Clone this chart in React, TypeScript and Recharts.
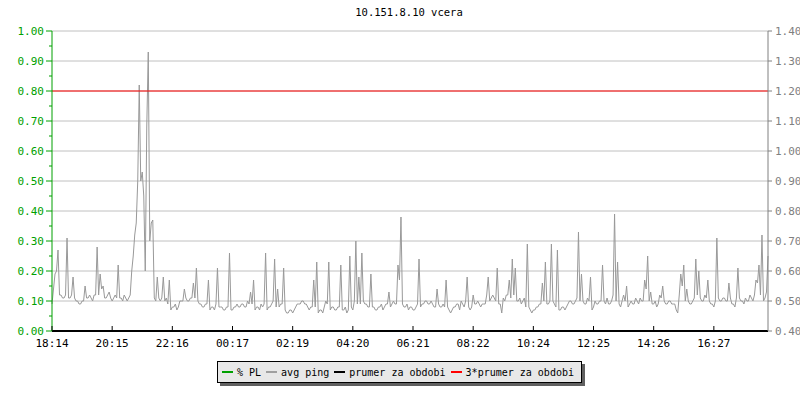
import React from "react";
import {
  LineChart,
  Line,
  XAxis,
  YAxis,
  CartesianGrid,
  ReferenceLine,
} from "recharts";

const title = "10.151.8.10 vcera";

const timeLabels = [
  "18:14", "20:15", "22:16", "00:17", "02:19", "04:20",
  "06:21", "08:22", "10:24", "12:25", "14:26", "16:27",
];

// avg ping samples (right axis units), even samples
const pingA = [
  0.49, 0.59, 0.67, 0.52, 0.51, 0.71, 0.51, 0.58, 0.50, 0.49, 0.50, 0.55, 0.51, 0.51, 0.52, 0.68, 0.59, 0.55, 0.51, 0.53, 0.50, 0.52,
  0.62, 0.51, 0.52, 0.50, 0.52, 0.65, 0.76, 1.22, 0.93, 0.60, 1.33, 0.76, 0.51, 0.58, 0.50, 0.58, 0.51, 0.57, 0.48, 0.49, 0.48,
  0.50, 0.54, 0.50, 0.51, 0.56, 0.61, 0.49, 0.48, 0.49, 0.57, 0.48, 0.47, 0.61, 0.48, 0.47, 0.48, 0.66, 0.47, 0.48, 0.48, 0.49,
  0.48, 0.50, 0.53, 0.57, 0.48, 0.47, 0.48, 0.66, 0.48, 0.49, 0.64, 0.54, 0.49, 0.61, 0.46, 0.47, 0.46, 0.48, 0.49, 0.50, 0.49, 0.48,
  0.48, 0.57, 0.63, 0.47, 0.46, 0.50, 0.63, 0.48, 0.47, 0.48, 0.62, 0.47, 0.46, 0.65, 0.47, 0.70, 0.58, 0.66, 0.49, 0.48, 0.59, 0.48,
  0.47, 0.48, 0.47, 0.49, 0.53, 0.49, 0.49, 0.62, 0.78, 0.48, 0.49, 0.48, 0.47, 0.48, 0.64, 0.49, 0.50, 0.49, 0.50, 0.48,
  0.54, 0.48, 0.49, 0.57, 0.47, 0.47, 0.48, 0.49, 0.50, 0.48, 0.58, 0.47, 0.52, 0.49, 0.49, 0.49, 0.49, 0.58, 0.51, 0.51, 0.61, 0.49,
  0.51, 0.52, 0.57, 0.64, 0.61, 0.50, 0.49, 0.51, 0.69, 0.47, 0.47, 0.48, 0.49, 0.56, 0.63, 0.49, 0.69, 0.49, 0.67, 0.47, 0.48,
  0.48, 0.50, 0.49, 0.50, 0.73, 0.59, 0.49, 0.51, 0.58, 0.48, 0.49, 0.50, 0.62, 0.49, 0.49, 0.50, 0.79, 0.63, 0.48, 0.52, 0.55, 0.49,
  0.49, 0.51, 0.49, 0.50, 0.57, 0.65, 0.53, 0.49, 0.48, 0.52, 0.55, 0.49, 0.50, 0.49, 0.49, 0.46, 0.59, 0.62, 0.54, 0.49, 0.50,
  0.64, 0.60, 0.50, 0.52, 0.57, 0.49, 0.48, 0.71, 0.50, 0.51, 0.50, 0.56, 0.49, 0.48, 0.61, 0.50, 0.49, 0.50, 0.52, 0.50, 0.57, 0.62, 0.72, 0.51, 0.65,
];

// odd samples, between the even ones
const pingB = [
  0.54, 0.60, 0.52, 0.51, 0.52, 0.51, 0.52, 0.51, 0.50, 0.49, 0.50, 0.51, 0.52, 0.50, 0.52, 0.52, 0.54, 0.51, 0.52, 0.51, 0.51,
  0.51, 0.51, 0.50, 0.51, 0.51, 0.60, 0.72, 0.90, 0.90, 0.85, 1.08, 0.70, 0.77, 0.50, 0.51, 0.51, 0.50, 0.49, 0.47, 0.48, 0.47,
  0.50, 0.50, 0.51, 0.50, 0.51, 0.51, 0.50, 0.49, 0.48, 0.49, 0.47, 0.48, 0.49, 0.48, 0.48, 0.47, 0.48, 0.47, 0.48, 0.49, 0.48,
  0.49, 0.48, 0.49, 0.49, 0.47, 0.48, 0.49, 0.49, 0.47, 0.48, 0.50, 0.48, 0.48, 0.49, 0.47, 0.46, 0.47, 0.47, 0.49, 0.49, 0.50, 0.49,
  0.47, 0.48, 0.48, 0.46, 0.47, 0.48, 0.49, 0.47, 0.48, 0.47, 0.48, 0.47, 0.48, 0.47, 0.48, 0.50, 0.49, 0.49, 0.50, 0.49, 0.48, 0.48,
  0.47, 0.48, 0.49, 0.48, 0.49, 0.48, 0.50, 0.49, 0.57, 0.49, 0.48, 0.47, 0.48, 0.47, 0.49, 0.48, 0.49, 0.50, 0.49, 0.49,
  0.48, 0.49, 0.48, 0.48, 0.48, 0.46, 0.48, 0.49, 0.47, 0.49, 0.50, 0.48, 0.48, 0.49, 0.50, 0.48, 0.49, 0.52, 0.50, 0.52, 0.50, 0.49,
  0.46, 0.50, 0.52, 0.51, 0.52, 0.50, 0.51, 0.50, 0.48, 0.48, 0.46, 0.47, 0.48, 0.49, 0.50, 0.49, 0.50, 0.50, 0.48, 0.47, 0.48,
  0.47, 0.49, 0.50, 0.49, 0.51, 0.50, 0.50, 0.49, 0.50, 0.47, 0.50, 0.49, 0.50, 0.50, 0.51, 0.49, 0.52, 0.50, 0.49, 0.50, 0.50, 0.48,
  0.50, 0.49, 0.50, 0.51, 0.50, 0.54, 0.50, 0.49, 0.50, 0.49, 0.51, 0.50, 0.49, 0.50, 0.49, 0.47, 0.52, 0.55, 0.50, 0.50, 0.49,
  0.51, 0.52, 0.51, 0.50, 0.51, 0.50, 0.49, 0.50, 0.51, 0.50, 0.51, 0.50, 0.51, 0.49, 0.51, 0.51, 0.50, 0.51, 0.50, 0.51, 0.52, 0.56, 0.52, 0.50, 0.53,
];

const prumer = 0.4;
const triplePrumer = 1.2;

const leftTicks = [0, 0.05, 0.1, 0.15, 0.2, 0.25, 0.3, 0.35, 0.4, 0.45, 0.5, 0.55, 0.6, 0.65, 0.7, 0.75, 0.8, 0.85, 0.9, 0.95, 1.0];
const rightTicks = [0.4, 0.5, 0.6, 0.7, 0.8, 0.9, 1.0, 1.1, 1.2, 1.3, 1.4];

const avgPing: number[] = [];
pingA.forEach((v, i) => {
  avgPing.push(v);
  if (i < pingB.length) avgPing.push(pingB[i]);
});
const data = avgPing.map((v, i) => ({ i, ping: v, pl: 0 }));
const tickStep = 40;
const xTicks = timeLabels.map((_, k) => k * tickStep);

const FONT = "'DejaVu Sans Mono', monospace";
const GREEN = "#00a000";
const PLOT_BOTTOM = 331;

const LeftTick = (props: any) => {
  const { x, y, payload } = props;
  const v = Math.round(payload.value * 100);
  const major = v % 10 === 0;
  return (
    <g>
      <line x1={major ? x + 2 : x + 5} y1={y} x2={x + 8} y2={y} stroke={GREEN} />
      {major && (
        <text x={x} y={y} dy={4} textAnchor="end" fill={GREEN} fontSize={11} fontFamily={FONT}>
          {payload.value.toFixed(2)}
        </text>
      )}
    </g>
  );
};

const RightTick = (props: any) => {
  const { x, y, payload } = props;
  return (
    <text x={x} y={y} dy={4} textAnchor="start" fill="#808080" fontSize={11} fontFamily={FONT}>
      {payload.value.toFixed(2)}
    </text>
  );
};

const BottomTick = (props: any) => {
  const { x, y, payload } = props;
  return (
    <g>
      <line x1={x} y1={PLOT_BOTTOM - 5} x2={x} y2={PLOT_BOTTOM} stroke="#000" />
      <text x={x} y={y} dy={10} textAnchor="middle" fill="#000" fontSize={11} fontFamily={FONT}>
        {timeLabels[payload.value / tickStep]}
      </text>
    </g>
  );
};

const legendItems = [
  { name: "% PL", color: GREEN },
  { name: "avg ping", color: "#a0a0a0" },
  { name: "prumer za obdobi", color: "#000000" },
  { name: "3*prumer za obdobi", color: "#ff0000" },
];

export default function App() {
  return (
    <div style={{ position: "absolute", left: 0, top: 0, width: 800, height: 400, background: "#fff" }}>
      <div
        style={{
          position: "absolute",
          top: 6,
          left: 9,
          width: 800,
          textAlign: "center",
          fontFamily: FONT,
          fontSize: 10.5,
        }}
      >
        {title}
      </div>
      <LineChart width={800} height={400} data={data} margin={{ top: 31, right: 0, bottom: 0, left: 0 }}>
        <CartesianGrid yAxisId="right" vertical={false} stroke="#c0c0c0" />
        <XAxis
          dataKey="i"
          type="number"
          domain={[0, avgPing.length - 1]}
          ticks={xTicks}
          height={69}
          tickLine={false}
          tickSize={4}
          tickMargin={2}
          stroke="#000"
          strokeWidth={2}
          tick={<BottomTick />}
        />
        <YAxis
          yAxisId="left"
          orientation="left"
          domain={[0, 1]}
          ticks={leftTicks}
          width={52}
          tickSize={6}
          tickMargin={2}
          tickLine={false}
          stroke={GREEN}
          interval={0}
          tick={<LeftTick />}
        />
        <YAxis
          yAxisId="right"
          orientation="right"
          domain={[0.4, 1.4]}
          ticks={rightTicks}
          width={32}
          tickSize={4}
          tickMargin={3}
          stroke="#808080"
          interval={0}
          tick={<RightTick />}
        />
        <Line yAxisId="left" dataKey="pl" stroke={GREEN} dot={false} isAnimationActive={false} />
        <Line
          yAxisId="right"
          dataKey="ping"
          stroke="#999999"
          strokeWidth={1}
          dot={false}
          isAnimationActive={false}
        />
        <ReferenceLine yAxisId="right" y={prumer} stroke="#000" strokeWidth={2} />
        <ReferenceLine yAxisId="right" y={triplePrumer} stroke="#ff0000" />
      </LineChart>
      <div
        style={{
          position: "absolute",
          left: 217,
          top: 361,
          width: 359,
          height: 20,
          background: "#e8e8e8",
          border: "1px solid #000",
          boxShadow: "3px 3px 0 #606060",
          display: "flex",
          alignItems: "center",
          fontFamily: FONT,
          fontSize: 10,
          paddingLeft: 4,
          whiteSpace: "nowrap",
        }}
      >
        {legendItems.map((it) => (
          <div key={it.name} style={{ display: "flex", alignItems: "center", marginRight: 5, flexShrink: 0 }}>
            <span style={{ display: "inline-block", width: 11, height: 2, background: it.color, marginRight: 4 }} />
            <span>{it.name}</span>
          </div>
        ))}
      </div>
    </div>
  );
}
